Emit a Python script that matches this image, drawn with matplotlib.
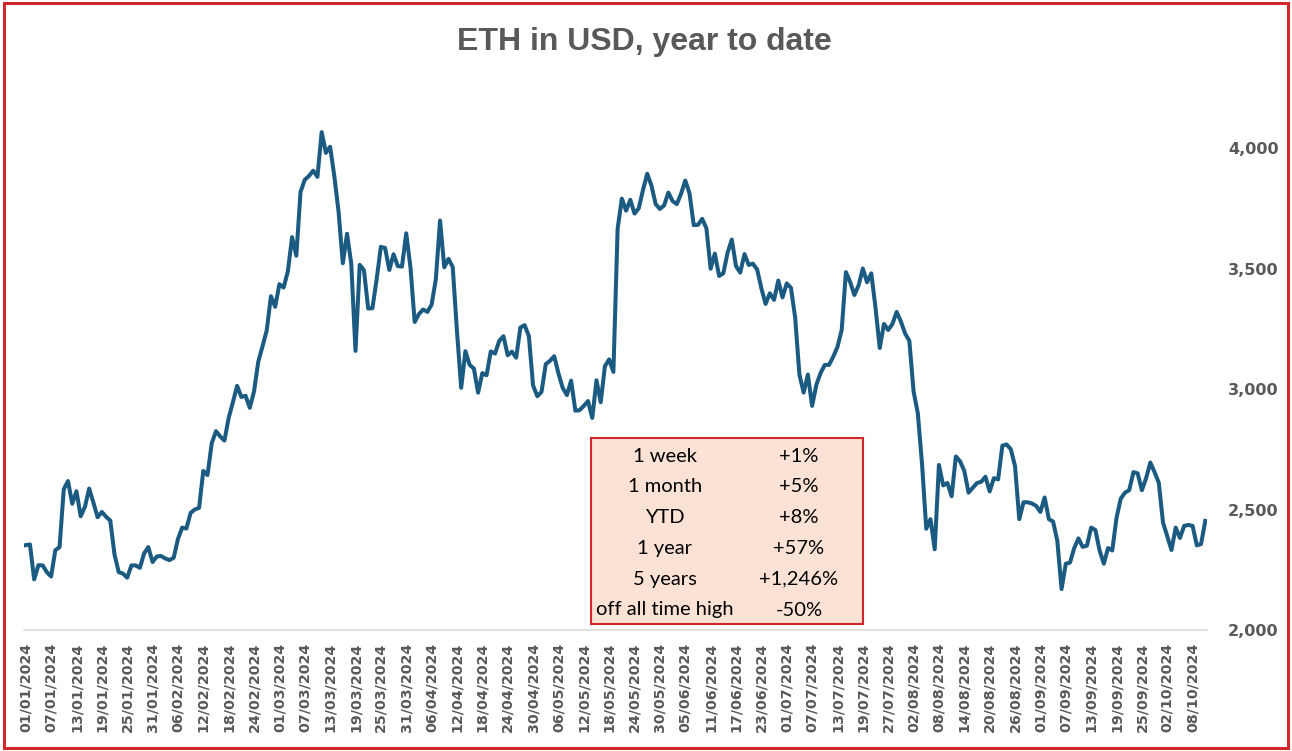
import pandas as pd
import matplotlib
matplotlib.use("Agg")
import matplotlib.pyplot as plt
from matplotlib.patches import Rectangle

# ==================== DATA ====================
# daily ETH close (USD), dates with no data in the source are left out
jan_prices = [2352, 2355, 2210, 2269, 2268, 2240, 2222, 2331, 2344, 2584,
              2618, 2524, 2576, 2472, 2511, 2587, 2529, 2468, 2490, 2470,
              2454, 2313, 2240, 2234, 2217, 2268, 2268, 2258, 2318, 2344, 2282]
feb_prices = [2305, 2307, 2297, 2290, 2300, 2377, 2425, 2421, 2486, 2500,
              2507, 2660, 2643, 2775, 2825, 2803, 2786, 2880, 2945, 3013,
              2967, 2972, 2922, 2990, 3113, 3177, 3243, 3385, 3341]
mar_prices = [3435, 3421, 3488, 3630, 3553, 3818, 3868, 3884, 3906, 3880,
              4066, 3980, 4005, 3882, 3735, 3522, 3644, 3520, 3158, 3515,
              3493, 3334, 3335, 3455, 3590, 3585, 3494, 3559, 3510, 3508, 3646]
apr_prices = [3505, 3278, 3311, 3330, 3320, 3350, 3455, 3699, 3505, 3540,
              3506, 3240, 3005, 3157, 3100, 3085, 2985, 3066, 3057, 3156,
              3147, 3200, 3219, 3140, 3155, 3130, 3255, 3265, 3220, 3015]
may_prices = [2970, 2988, 3103, 3117, 3136, 3065, 3005, 2975, 3035, 2910,
              2912, 2930, 2950, 2880, 3036, 2945, 3095, 3123, 3071, 3665,
              3790, 3740, 3785, 3728, 3750, 3826, 3893, 3844, 3767, 3747, 3762]
jun_prices = [3815, 3780, 3767, 3810, 3865, 3812, 3680, 3681, 3706, 3667,
              3499, 3562, 3469, 3480, 3565, 3620, 3510, 3483, 3560, 3515,
              3520, 3496, 3418, 3353, 3397, 3370, 3450, 3380]
jul_prices = [3438, 3420, 3295, 3060, 2985, 3060, 2930, 3017, 3066, 3100,
              3100, 3134, 3175, 3245, 3485, 3444, 3390, 3430, 3500, 3443,
              3480, 3337, 3170, 3270, 3245, 3270, 3320, 3280, 3230]
aug_prices = [3200, 2990, 2900, 2690, 2420, 2460, 2335, 2685, 2600, 2610,
              2555, 2720, 2700, 2660, 2570, 2590, 2610, 2615, 2636, 2575,
              2630, 2625, 2765, 2770, 2750, 2680, 2460, 2530, 2530, 2525, 2515]
sep_prices = [2490, 2550, 2460, 2450, 2370, 2170, 2275, 2280, 2340, 2380,
              2345, 2350, 2425, 2415, 2330, 2275, 2340, 2330, 2465, 2545,
              2570, 2580, 2655, 2650, 2580, 2630, 2695, 2655, 2611]
oct_prices = [2446, 2389, 2332, 2425, 2382, 2432, 2436, 2432, 2351, 2357, 2453]

missing_days = ["2024-06-29", "2024-06-30", "2024-07-20", "2024-07-21", "2024-09-28"]

y_ticks = [2000, 2500, 3000, 3500, 4000]

table_labels = ["1 week", "1 month", "YTD", "1 year", "5 years", "off all time high"]
table_values = ["+1%", "+5%", "+8%", "+57%", "+1,246%", "-50%"]

title = "ETH in USD, year to date"

# ==================== BUILD SERIES ====================
dates = pd.date_range("2024-01-01", "2024-10-11", freq="D")
dates = dates[~dates.isin(pd.to_datetime(missing_days))]
prices = (jan_prices + feb_prices + mar_prices + apr_prices + may_prices +
          jun_prices + jul_prices + aug_prices + sep_prices + oct_prices)
df = pd.DataFrame({"date": dates, "price": prices})

# ==================== PLOT ====================
grey = "#595959"
line_col = "#1b5b82"
red = "#d0262c"

fig = plt.figure(figsize=(12.92, 7.51), dpi=100)
ax = fig.add_axes([0.0186, 0.1611, 0.9156, 0.7702])

x = list(range(len(df)))
ax.plot(x, df["price"], color=line_col, lw=2.9, solid_joinstyle="round")

ax.set_xlim(-0.4, len(df) - 0.6)
ax.set_ylim(2000, 4400)

tick_pos = x[::6]
ax.set_xticks(tick_pos)
ax.set_xticklabels([df["date"][i].strftime("%d/%m/%Y") for i in tick_pos],
                   rotation=90, fontsize=10.3, fontweight="bold", color=grey,
                   family="DejaVu Sans")
ax.yaxis.tick_right()
ax.set_yticks(y_ticks)
ax.set_yticklabels([f"{v:,}" for v in y_ticks], fontsize=11.5, fontweight="bold",
                   color=grey, family="DejaVu Sans")
ax.tick_params(axis="both", length=0)
ax.tick_params(axis="x", pad=9)
ax.tick_params(axis="y", pad=15)

for side in ["top", "left", "right"]:
    ax.spines[side].set_visible(False)
ax.spines["bottom"].set_color("#d9d9d9")
ax.spines["bottom"].set_linewidth(1.2)

fig.text(0.4985, 0.944, title, ha="center", va="center", fontsize=23,
         fontweight="bold", color=grey, family="Liberation Sans")

# stats box
fig.add_artist(Rectangle((0.4574, 0.1691), 0.2105, 0.2477, transform=fig.transFigure,
                         facecolor="#fbe2d5", edgecolor=red, lw=1.5, zorder=5))
for i, (lab, val) in enumerate(zip(table_labels, table_values)):
    yy = (751 - (456 + 30.8 * i)) / 751
    fig.text(0.5147, yy, lab, ha="center", va="center", fontsize=14.5,
             family="Lato", color="black", zorder=6)
    fig.text(0.6184, yy, val, ha="center", va="center", fontsize=14.5,
             family="Lato", color="black", zorder=6)

# red frame round the whole picture
fig.add_artist(Rectangle((0.003, 0.004), 0.994, 0.992, transform=fig.transFigure,
                         facecolor="none", edgecolor=red, lw=2.2))

plt.savefig("out.png", dpi=100)
